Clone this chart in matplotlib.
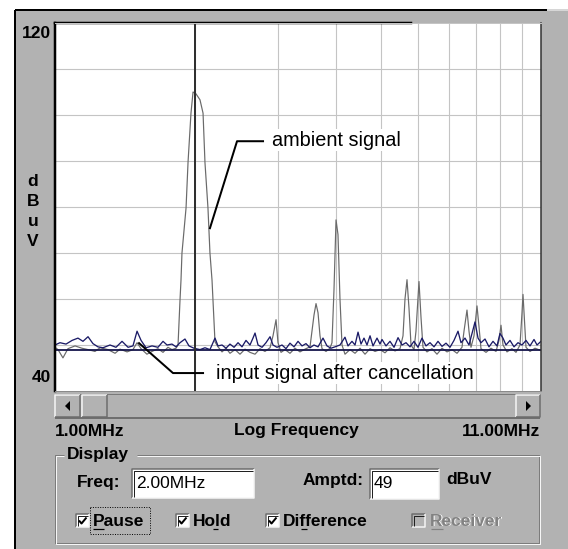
import matplotlib
matplotlib.use("Agg")
import matplotlib.pyplot as plt
from matplotlib.patches import Rectangle, Polygon
from matplotlib.ticker import NullLocator

plt.rcParams['font.family'] = ['Liberation Sans', 'DejaVu Sans']

# ambient signal (grey trace), frequency in MHz / level in dBuV
ambient_mhz = [1.000, 1.015, 1.040, 1.066, 1.104, 1.142, 1.177, 1.218, 1.249, 1.299,
               1.345, 1.378, 1.427, 1.469, 1.499, 1.529, 1.574, 1.614, 1.662, 1.704,
               1.746, 1.781, 1.817,
               1.835, 1.853, 1.862, 1.871, 1.909, 1.928, 1.956, 1.976, 2.005, 2.045,
               2.076, 2.096, 2.127, 2.148, 2.170, 2.180, 2.202, 2.235,
               2.280, 2.325, 2.371, 2.431, 2.491, 2.554, 2.617, 2.683, 2.750, 2.818,
               2.889, 2.932, 2.976, 3.005, 3.050, 3.111, 3.188, 3.268, 3.349, 3.433,
               3.519, 3.554, 3.589, 3.625, 3.661, 3.697, 3.734, 3.808, 3.884, 3.922,
               3.961, 4.001, 4.040, 4.080, 4.121, 4.182, 4.287, 4.394, 4.504, 4.616,
               4.732, 4.850, 4.971, 5.095, 5.222, 5.353, 5.486, 5.568, 5.623, 5.679,
               5.735, 5.792, 5.878, 5.936, 5.995, 6.025, 6.085, 6.145, 6.268, 6.424,
               6.585, 6.750, 6.918, 7.091, 7.268, 7.449, 7.523, 7.635, 7.711, 7.787,
               7.903, 8.021, 8.101, 8.181, 8.386, 8.595, 8.810, 8.941, 9.030, 9.119,
               9.301, 9.533, 9.723, 9.917, 10.016, 10.065, 10.115, 10.215, 10.419,
               10.679, 11.0]
ambient_db = [49.5, 49.0, 47.2, 49.2, 49.8, 49.3, 49.0, 48.6, 49.4, 49.0,
              48.2, 49.1, 48.5, 49.0, 50.5, 49.2, 48.0, 48.6, 49.2, 48.4,
              49.5, 49.0, 49.3,
              50.0, 59.8, 64.1, 70.0, 79.8, 89.8, 100.4, 105.0, 104.6, 103.3,
              100.4, 89.6, 79.8, 70.0, 64.1, 59.8, 50.7, 49.6,
              48.5, 49.3, 48.2, 49.0, 48.0, 49.1, 48.4, 48.0, 49.2, 48.6,
              49.4, 52.0, 55.5, 50.5, 48.4, 49.0, 48.2, 49.3, 48.5, 49.1,
              49.6, 53.0, 56.5, 59.0, 57.0, 52.0, 49.2, 48.6, 49.3, 50.5,
              62.0, 77.2, 74.0, 60.0, 50.0, 48.0, 49.0, 48.2, 49.3, 48.0,
              49.2, 48.6, 49.0, 48.3, 49.4, 48.7, 49.2, 52.0, 60.0, 64.2,
              58.0, 50.0, 49.0, 53.0, 60.0, 63.8, 56.0, 49.5, 48.5, 49.2,
              48.0, 49.3, 48.5, 49.0, 48.2, 49.5, 53.0, 57.6, 53.0, 49.5,
              52.0, 58.5, 54.0, 49.2, 48.4, 49.3, 48.6, 51.0, 54.3, 50.0,
              48.5, 49.2, 48.4, 50.0, 57.0, 61.0, 57.0, 49.5, 48.6,
              49.3, 48.8]

# input signal after cancellation (navy trace)
cancel_mhz = [1.000, 1.025, 1.056, 1.088, 1.120, 1.148, 1.177, 1.206, 1.236, 1.267,
              1.312, 1.351, 1.392, 1.434, 1.469, 1.499, 1.529, 1.567, 1.614, 1.662,
              1.704, 1.738, 1.781, 1.817, 1.853, 1.899, 1.937, 1.985, 2.045, 2.096,
              2.148, 2.202, 2.235, 2.280, 2.325, 2.371, 2.419, 2.467, 2.516, 2.566,
              2.617, 2.656, 2.683, 2.723, 2.777, 2.832, 2.889, 2.932, 2.990, 3.065,
              3.126, 3.188, 3.252, 3.317, 3.383, 3.450, 3.519, 3.589, 3.661, 3.752,
              3.827, 3.903, 3.981, 4.080, 4.182, 4.245, 4.329, 4.394, 4.460, 4.526,
              4.593, 4.662, 4.732, 4.802, 4.898, 4.971, 5.020, 5.120, 5.222, 5.327,
              5.433, 5.541, 5.651, 5.763, 5.878, 5.995, 6.115, 6.237, 6.362, 6.488,
              6.617, 6.750, 6.884, 7.021, 7.161, 7.304, 7.413, 7.560, 7.711, 7.826,
              7.943, 8.062, 8.181, 8.345, 8.511, 8.681, 8.853, 8.985, 9.119, 9.255,
              9.440, 9.628, 9.820, 10.016, 10.215, 10.419, 10.627, 10.786, 11.0]
cancel_db = [50.0, 50.5, 50.2, 51.0, 51.5, 50.8, 51.8, 50.3, 49.6, 49.4,
             50.0, 49.5, 50.8, 49.5, 49.8, 53.0, 51.0, 49.4, 49.8, 49.5,
             50.8, 50.0, 50.2, 49.6, 50.5, 51.3, 49.8, 49.3, 49.0, 49.4,
             49.0, 51.5, 49.8, 50.0, 49.3, 50.2, 49.5, 50.5, 49.6, 51.0,
             50.0, 51.5, 52.6, 50.0, 49.5, 50.5, 51.8, 50.0, 49.5, 50.0,
             49.2, 50.4, 49.6, 50.8, 49.8, 50.3, 49.4, 50.0, 49.6, 51.5,
             49.8, 49.3, 49.6, 50.0, 51.7, 49.8, 50.8, 50.0, 52.8, 50.2,
             51.5, 50.0, 52.0, 49.8, 51.5, 50.2, 51.2, 49.8, 50.8, 49.5,
             51.6, 50.0, 50.5, 49.6, 50.8, 49.5, 51.5, 49.8, 50.5, 49.6,
             50.8, 49.7, 50.4, 49.5, 51.0, 53.0, 50.5, 51.5, 50.0, 52.5,
             55.0, 51.5, 50.5, 51.3, 49.6, 50.8, 49.8, 52.5, 51.5, 50.0,
             51.0, 49.6, 50.5, 50.0, 51.0, 49.8, 51.2, 50.0, 50.8]

grid_mhz = [2, 3, 4, 5, 6, 7, 8, 9, 10]
freq_range = (1.0, 11.0)
db_range = (40, 120)
cursor_mhz = 2.00
cursor_db = 49

W, H = 568, 549
PANEL = '#b2b2b2'
DARK = '#6c6c6c'
LIGHT = '#f6f6f6'
PX = 0.72  # one pixel in points at 100 dpi

fig = plt.figure(figsize=(W / 100, H / 100), dpi=100)
fig.patch.set_facecolor('white')
ui = fig.add_axes([0, 0, 1, 1])
ui.set_xlim(0, W)
ui.set_ylim(H, 0)
ui.axis('off')


def line(xs, ys, c, lw=1.0, **kw):
    ui.plot(xs, ys, color=c, lw=lw * PX, solid_capstyle='butt', **kw)


def box(x0, y0, x1, y1, fc, raised=True):
    ui.add_patch(Rectangle((x0, y0), x1 - x0, y1 - y0, fc=fc, ec='none'))
    tl, br = (LIGHT, DARK) if raised else (DARK, LIGHT)
    line([x0, x0, x1], [y1, y0, y0], tl, 1.5)
    line([x0, x1, x1], [y1, y1, y0], br, 1.5)
    if not raised:
        line([x0 + 1.5, x0 + 1.5, x1 - 1], [y1 - 1, y0 + 1.5, y0 + 1.5], '#202020', 1)


# window frame and panel
ui.add_patch(Rectangle((16, 11), W - 16, H - 11, fc=PANEL, ec='none'))
line([15, 15], [10, H], 'black', 2)
line([15, 547], [10, 10], 'black', 2)
line([547, W], [10, 10], '#d6d6d6', 2)

# y-axis labels
bold = dict(fontweight='bold', fontsize=12.5, va='center')
ui.text(51, 33, '120', ha='right', **bold)
ui.text(51, 377, '40', ha='right', **bold)
for ch, y in zip('dBuV', [182, 202, 222, 241]):
    ui.text(33, y, ch, ha='center', **bold)

# scroll bar
line([55, 540], [393.5, 393.5], '#7a7a7a', 1)
line([55, 540], [418, 418], '#5a5a5a', 1.5)
box(55, 395, 80, 417, PANEL)
box(82, 395, 107, 417, PANEL)
box(516, 395, 540, 417, PANEL)
ui.add_patch(Polygon([(70, 401), (70, 411), (65, 406)], fc='black', ec='none'))
ui.add_patch(Polygon([(526, 401), (526, 411), (531, 406)], fc='black', ec='none'))

ui.text(55, 431, '1.00MHz', ha='left', **bold)
ui.text(296, 431, 'Log Frequency', ha='center', **bold)
ui.text(540, 431, '11.00MHz', ha='right', **bold)

# "Display" group box (etched)
for off, col in [(0, '#7c7c7c'), (1, LIGHT)]:
    line([64, 55 + off, 55 + off, 539 + off, 539 + off, 137],
         [455 + off, 455 + off, 543 + off, 543 + off, 455 + off, 455 + off], col, 1)
ui.text(67, 455, 'Display', ha='left', **bold)

ui.text(77, 483, 'Freq:', ha='left', **bold)
box(132, 469, 254, 498, 'white', raised=False)
ui.text(136, 484, '2.00MHz', ha='left', va='center', fontsize=12.5)

ui.text(303, 480, 'Amptd:', ha='left', **bold)
box(370, 469, 439, 499, 'white', raised=False)
ui.text(374, 483, '49', ha='left', va='center', fontsize=12.5)
ui.text(446, 480, 'dBuV', ha='left', **bold)

# check boxes
checks = [(76, 'Pause', (93, 104), True), (176, 'Hold', (213, 218), True),
          (266, 'Difference', (301, 307), True), (412, 'Receiver', (431, 443), False)]
for x0, label, (u0, u1), on in checks:
    y0 = 514
    box(x0, y0, x0 + 13, y0 + 13, 'white' if on else PANEL, raised=False)
    if on:
        line([x0 + 3, x0 + 5.5, x0 + 10.5], [y0 + 6.5, y0 + 9.5, y0 + 3.5], 'black', 2)
        ui.text(x0 + 17, 521, label, ha='left', **bold)
        line([u0, u1], [529, 529], 'black', 1.2)
    else:
        ui.text(x0 + 19, 522, label, ha='left', color='white', **bold)
        ui.text(x0 + 18, 521, label, ha='left', color='#828282', **bold)
        line([u0, u1], [529, 529], '#828282', 1.2)
ui.add_patch(Rectangle((90, 507), 60, 27, fc='none', ec='black', lw=0.7, ls=(0, (1, 1.5))))

# spectrum plot area
ax = fig.add_axes([55 / W, 1 - 391 / H, 486 / W, 368 / H])
ax.set_facecolor('white')
ax.set_xscale('log')
ax.set_xlim(*freq_range)
ax.set_ylim(*db_range)
ax.set_xticks(grid_mhz)
ax.xaxis.set_minor_locator(NullLocator())
ax.set_yticks(range(50, 120, 10))
ax.tick_params(length=0, labelbottom=False, labelleft=False)
ax.grid(color='#c4c4c4', lw=1.1 * PX)
ax.set_axisbelow(True)
ax.spines['left'].set(color='black', lw=2.5 * PX)
ax.spines['top'].set(color='#c4c4c4', lw=1 * PX)
ax.spines['right'].set(color='#303030', lw=1.5 * PX)
ax.spines['bottom'].set(color='#8a8a8a', lw=1 * PX)
ax.axhline(db_range[1], xmin=0, xmax=0.7325, color='black', lw=2.5 * PX, clip_on=False)

ax.plot(ambient_mhz, ambient_db, color='#6a6a6a', lw=1.2 * PX)
ax.plot(cancel_mhz, cancel_db, color='#1a1a66', lw=1.3 * PX)
ax.axhline(cursor_db, color='#14144a', lw=1.8 * PX)
ax.axvline(cursor_mhz, color='#303030', lw=2 * PX)

# call-outs
ax.plot([2.148, 2.455, 2.791], [75.4, 94.3, 94.3], color='black', lw=2 * PX)
ax.text(2.917, 94.5, 'ambient signal', ha='left', va='center', fontsize=14.3,
        bbox=dict(fc='white', ec='none', pad=1))
ax.plot([1.514, 1.790, 2.076], [50.4, 43.9, 43.9], color='black', lw=2 * PX)
ax.text(2.213, 43.9, 'input signal after cancellation', ha='left', va='center',
        fontsize=14.3, bbox=dict(fc='white', ec='none', pad=1))

fig.savefig('out.png', dpi=100)
